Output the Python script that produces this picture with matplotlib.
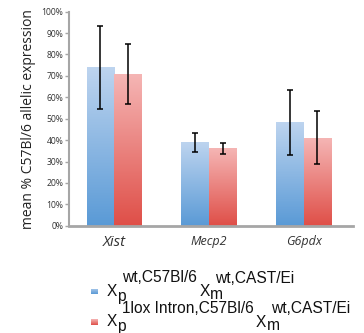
import numpy as np
import matplotlib
matplotlib.use("Agg")
import matplotlib.pyplot as plt
from matplotlib.colors import LinearSegmentedColormap

W, H = 364, 333

genes = ["Xist", "Mecp2", "G6pdx"]
gene_sizes = [10.8, 9, 9]
wt_mean = [73.9, 38.9, 48.3]
wt_err = [19.4, 4.5, 15.3]
lox_mean = [71.0, 36.2, 41.1]
lox_err = [14.0, 2.6, 12.4]
yticks = list(range(0, 101, 10))
legend_parts = [
    ("p", "wt,C57Bl/6", "m", "wt,CAST/Ei"),
    ("p", "1lox Intron,C57Bl/6", "m", "wt,CAST/Ei"),
]

blue_cmap = LinearSegmentedColormap.from_list("b", ["#5a9ad6", "#bdd4ef"])
red_cmap = LinearSegmentedColormap.from_list("r", ["#df4f48", "#f5b5b4"])
grad = np.linspace(0, 1, 100).reshape(-1, 1)

fig = plt.figure(figsize=(W / 100, H / 100), dpi=100)
ax = fig.add_axes([69 / W, 1 - 225.7 / H, (353 - 69) / W, (225.7 - 11.7) / H])

bw = 0.29
x = np.arange(len(genes))
for i in range(len(genes)):
    for xc, h, cm in [(x[i] - bw / 2, wt_mean[i], blue_cmap),
                      (x[i] + bw / 2, lox_mean[i], red_cmap)]:
        ax.imshow(grad, extent=[xc - bw / 2, xc + bw / 2, 0, h], origin="lower",
                  aspect="auto", cmap=cm, zorder=2)

ax.errorbar(x - bw / 2, wt_mean, yerr=wt_err, fmt="none", ecolor="black",
            elinewidth=1.1, capsize=2.3, capthick=1.1, zorder=3)
ax.errorbar(x + bw / 2, lox_mean, yerr=lox_err, fmt="none", ecolor="black",
            elinewidth=1.1, capsize=2.3, capthick=1.1, zorder=3)

ax.set_xlim(-0.475, 2.52)
ax.set_ylim(0, 100)
ax.set_yticks(yticks)
ax.set_yticklabels([f"{t}%" for t in yticks], fontsize=6.2, family="Open Sans",
                   color="#333333")
ax.set_xticks(x)
ax.set_xticklabels(genes, style="italic", family="Open Sans", color="#333333")
for lab, s in zip(ax.get_xticklabels(), gene_sizes):
    lab.set_fontsize(s)
ax.tick_params(axis="x", length=0, pad=7)
ax.tick_params(axis="y", length=3, width=1, color="#a6a6a6", pad=1)
for s in ["top", "right"]:
    ax.spines[s].set_visible(False)
ax.spines["left"].set_color("#a6a6a6")
ax.spines["left"].set_linewidth(1.5)
ax.spines["bottom"].set_color("#a6a6a6")
ax.spines["bottom"].set_linewidth(2)
ax.set_ylabel("mean % C57Bl/6 allelic expression", fontsize=10,
              family="Open Sans", color="#222222", labelpad=4)

# legend drawn by hand
renderer = fig.canvas.get_renderer()


def seg(px, py, s):
    t = fig.text(px / W, 1 - py / H, s, ha="left", va="baseline", fontsize=11.2,
                 family="Liberation Sans", color="#111111")
    return t.get_window_extent(renderer).x1


for k, (sub1, sup1, sub2, sup2) in enumerate(legend_parts):
    base = 295.5 + k * 30.5
    cm = blue_cmap if k == 0 else red_cmap
    sq = fig.add_axes([90.7 / W, 1 - (base - 1) / H, 6.6 / W, 6 / H])
    sq.imshow(grad, origin="lower", aspect="auto", cmap=cm)
    sq.axis("off")
    e = seg(107, base, "X")
    seg(e, base + 5.5, sub1)
    e = seg(e + 5, base - 13, sup1)
    e2 = seg(e + 2, base + 1, "X")
    seg(e2, base + 3.5, sub2)
    seg(e2 + 5, base - 12.7, sup2)

fig.savefig("out.png", dpi=100)
